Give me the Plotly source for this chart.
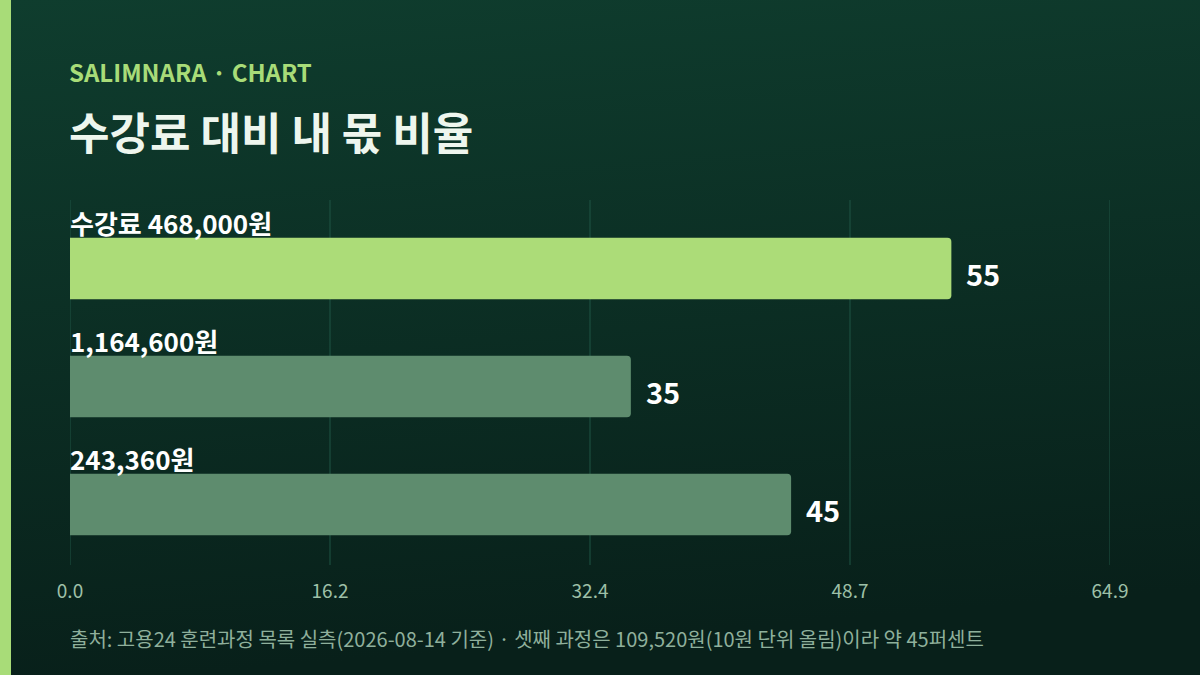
import base64
import plotly.graph_objects as go

# data
labels = ['수강료 468,000원', '1,164,600원', '243,360원']
shares = [55, 35, 45]
bar_colors = ['#acdc78', '#5e8c6e', '#5e8c6e']
tick_vals = [0, 16.225, 32.45, 48.675, 64.9]
tick_text = ['0.0', '16.2', '32.4', '48.7', '64.9']

FONT = 'Noto Sans CJK KR'

# background gradient as an svg image
svg = ('<svg xmlns="http://www.w3.org/2000/svg" width="1200" height="675">'
       '<defs><linearGradient id="g" x1="0" y1="0" x2="0.15" y2="1">'
       '<stop offset="0" stop-color="#0f3d2e"/><stop offset="1" stop-color="#08201a"/>'
       '</linearGradient></defs><rect width="1200" height="675" fill="url(#g)"/></svg>')
bg_src = 'data:image/svg+xml;base64,' + base64.b64encode(svg.encode()).decode()

# plot area in pixels: x 70..1110, y 200..565
L, R, T, B = 70, 90, 200, 110
W, H = 1200, 675
pw, ph = W - L - R, H - T - B


def px(x):
    return (x - L) / pw


def py(y):
    return (H - B - y) / ph


ypos = list(range(len(labels)))

fig = go.Figure()
fig.add_trace(go.Bar(
    x=shares, y=ypos, orientation='h', width=0.52,
    marker=dict(color=bar_colors, line=dict(width=0)),
    hoverinfo='skip', showlegend=False,
))

annotations = []
for i, (lab, val) in enumerate(zip(labels, shares)):
    annotations.append(dict(
        x=0, y=i - 0.26, xref='x', yref='y', text=lab, showarrow=False,
        xanchor='left', yanchor='bottom', yshift=-5, xshift=-2,
        font=dict(family=FONT, size=26, color='#ffffff', weight='bold'),
    ))
    annotations.append(dict(
        x=val, y=i, xref='x', yref='y', text=str(val), showarrow=False,
        xanchor='left', yanchor='middle', xshift=13, yshift=-5,
        font=dict(family=FONT, size=29, color='#ffffff', weight='bold'),
    ))

annotations += [
    dict(x=px(67), y=py(71), xref='paper', yref='paper', text='SALIMNARA · CHART',
         showarrow=False, xanchor='left', yanchor='middle',
         font=dict(family=FONT, size=24, color='#a8dc78', weight='bold')),
    dict(x=px(67), y=py(131), xref='paper', yref='paper', text='수강료 대비 내 몫 비율',
         showarrow=False, xanchor='left', yanchor='middle',
         font=dict(family=FONT, size=44, color='#eef6ee', weight='bold')),
    dict(x=px(68), y=py(638), xref='paper', yref='paper',
         text='출처: 고용24 훈련과정 목록 실측(2026-08-14 기준) · 셋째 과정은 109,520원(10원 단위 올림)이라 약 45퍼센트',
         showarrow=False, xanchor='left', yanchor='middle',
         font=dict(family=FONT, size=20, color='#8fb09c')),
]

# vertical grid, drawn as shapes so the edge lines show too
shapes = [dict(type='line', xref='x', yref='paper', x0=v, x1=v, y0=0, y1=1,
               line=dict(color='#1f5444', width=1), layer='below')
          for v in tick_vals]
shapes.append(dict(type='rect', xref='paper', yref='paper',
                   x0=px(0), x1=px(11), y0=py(H), y1=py(0),
                   fillcolor='#a8dc78', line=dict(width=0), layer='below'))

fig.update_layout(
    width=W, height=H,
    margin=dict(l=L, r=R, t=T, b=B, pad=0),
    paper_bgcolor='#0b2d22', plot_bgcolor='rgba(0,0,0,0)',
    barcornerradius=4,
    font=dict(family=FONT),
    xaxis=dict(range=[0, 64.9], tickvals=tick_vals, ticktext=tick_text,
               showgrid=False, zeroline=False, showline=False, ticks='',
               ticklabelstandoff=13,
               tickfont=dict(family=FONT, size=19, color='#9ec0a8')),
    yaxis=dict(range=[2.513, -0.58], showgrid=False, zeroline=False,
               showticklabels=False, showline=False),
    annotations=annotations,
    images=[dict(source=bg_src, xref='paper', yref='paper',
                 x=px(0), y=py(0), sizex=W / pw, sizey=H / ph,
                 xanchor='left', yanchor='top', sizing='stretch', layer='below')],
    shapes=shapes,
)

# drop the default page margin so the figure sits at the window corner
fig.write_html('out.html', config={'displayModeBar': False},
               post_script="document.body.style.margin='0';")
